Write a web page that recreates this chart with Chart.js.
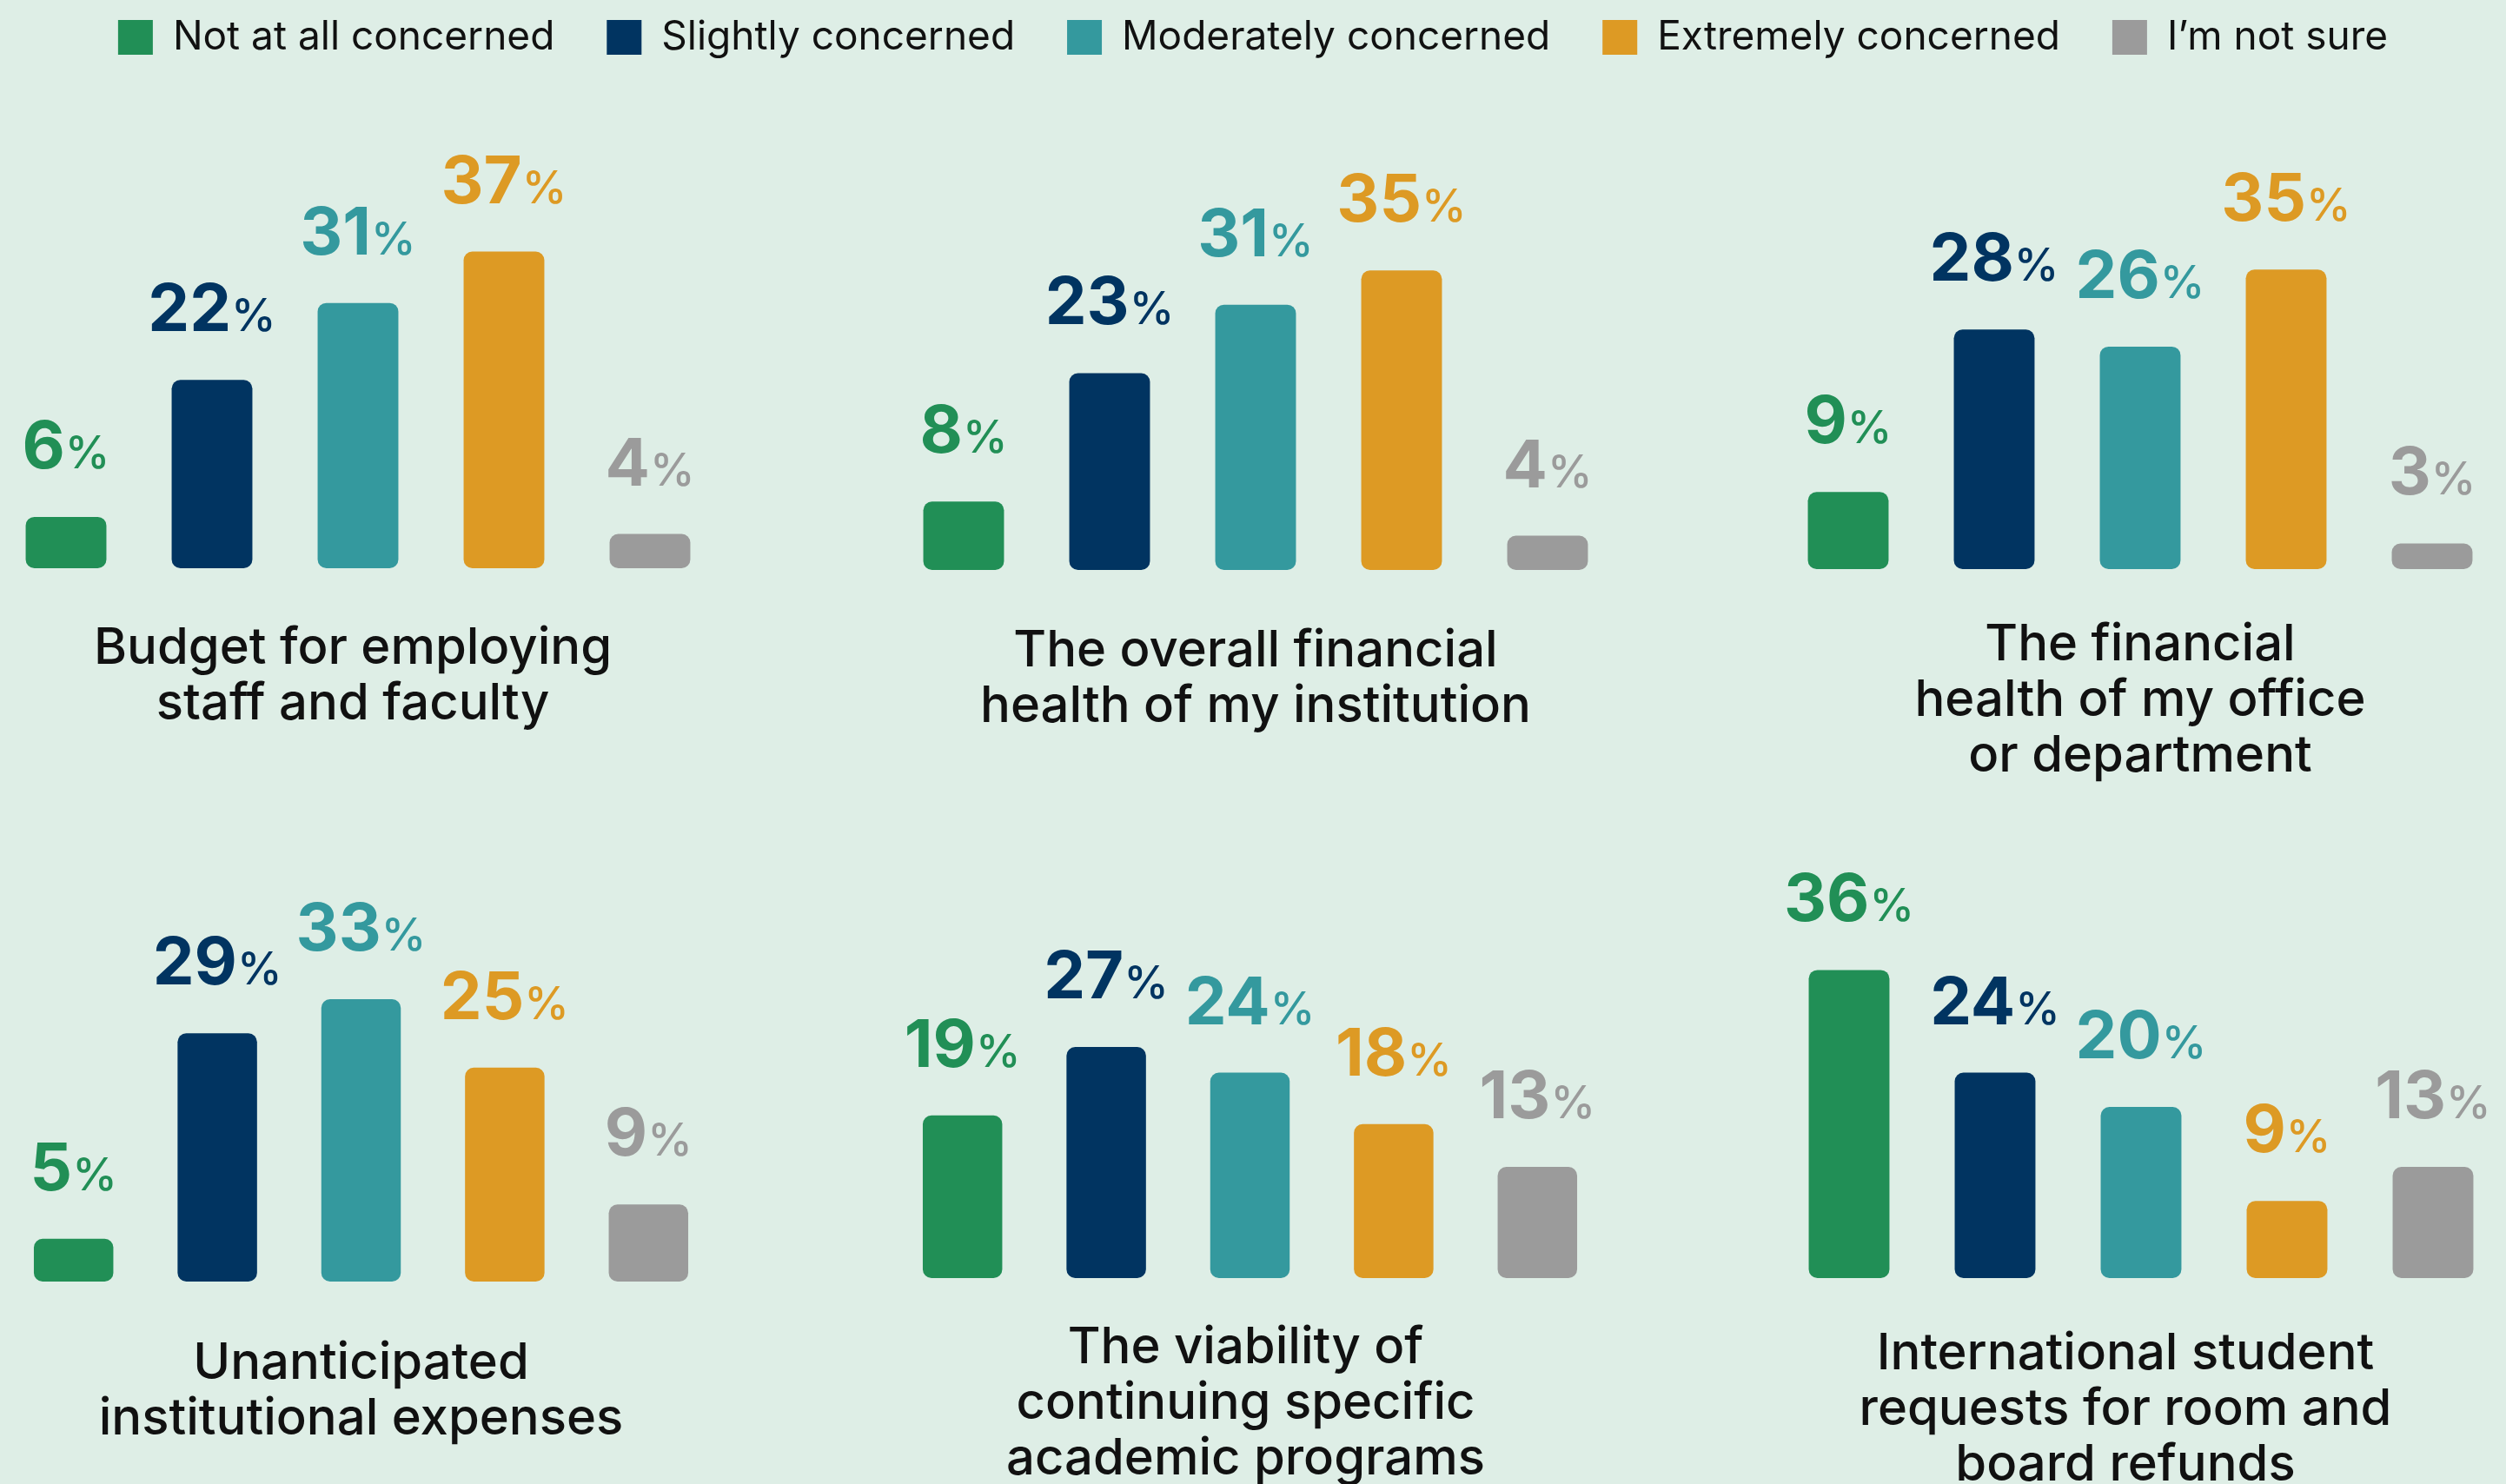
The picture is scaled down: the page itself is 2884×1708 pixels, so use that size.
<!DOCTYPE html>
<html>
<head>
<meta charset="utf-8">
<script src="https://cdn.jsdelivr.net/npm/chart.js@4.4.1/dist/chart.umd.min.js"></script>
<style>
  html, body { margin: 0; padding: 0; }
  body { width: 2884px; height: 1708px; overflow: hidden; position: relative; background: #deeee6; }
  canvas { position: absolute; }
</style>
</head>
<body>
<canvas id="legend" width="2884" height="400" style="left:0;top:-40px"></canvas>
<div id="panels"></div>
<script>
// response categories (legend) and their colours
const categories = ['Not at all concerned', 'Slightly concerned', 'Moderately concerned', 'Extremely concerned', 'I\u2019m not sure'];
const colors = ['#218f56', '#013461', '#34999e', '#dd9a24', '#9b9b9b'];

// one title + one value list per small chart
const budgetTitle = ['Budget for employing', 'staff and faculty'];
const budgetValues = [6, 22, 31, 37, 4];

const overallTitle = ['The overall financial', 'health of my institution'];
const overallValues = [8, 23, 31, 35, 4];

const officeTitle = ['The financial', 'health of my office', 'or department'];
const officeValues = [9, 28, 26, 35, 3];

const expensesTitle = ['Unanticipated', 'institutional expenses'];
const expensesValues = [5, 29, 33, 25, 9];

const programsTitle = ['The viability of', 'continuing specific', 'academic programs'];
const programsValues = [19, 27, 24, 18, 13];

const refundsTitle = ['International student', 'requests for room and', 'board refunds'];
const refundsValues = [36, 24, 20, 9, 13];

const yMax = 40;

// page layout for each panel (pixels)
const AREA_H = 394;     // plot height for 0..yMax
const LABEL_PAD = 110;  // room above the plot for value labels
const LINE_H = 64;
const panels = [
  { title: budgetTitle,   values: budgetValues,   left: -8,   width: 840, baseline: 654,  titlePad: 61, shift: 6 },
  { title: overallTitle,  values: overallValues,  left: 1025, width: 840, baseline: 656,  titlePad: 62, shift: 0 },
  { title: officeTitle,   values: officeValues,   left: 2043, width: 840, baseline: 655,  titlePad: 56, shift: 0 },
  { title: expensesTitle, values: expensesValues, left: 2,    width: 827, baseline: 1475, titlePad: 63, shift: 0 },
  { title: programsTitle, values: programsValues, left: 1025, width: 827, baseline: 1471, titlePad: 49, shift: 5 },
  { title: refundsTitle,  values: refundsValues,  left: 2044, width: 840, baseline: 1471, titlePad: 56, shift: 18 }
];

const FONT = 'Inter, "Noto Sans", sans-serif';
const numFont = '700 76px ' + FONT;
const pctFont = '500 52px ' + FONT;

const valueLabels = {
  id: 'valueLabels',
  afterDatasetsDraw(chart) {
    const ctx = chart.ctx;
    const ds = chart.data.datasets[0];
    chart.getDatasetMeta(0).data.forEach((bar, i) => {
      const num = String(ds.data[i]);
      ctx.save();
      ctx.font = numFont;
      const w1 = ctx.measureText(num).width;
      ctx.font = pctFont;
      const w2 = ctx.measureText('%').width;
      const x0 = bar.x - (w1 + w2) / 2;
      const y = bar.y - 56;
      ctx.fillStyle = ds.backgroundColor[i];
      ctx.textBaseline = 'alphabetic';
      ctx.textAlign = 'left';
      ctx.font = numFont;
      ctx.fillText(num, x0, y);
      ctx.font = pctFont;
      ctx.fillText('%', x0 + w1, y);
      ctx.restore();
    });
  }
};

// legend
new Chart(document.getElementById('legend'), {
  type: 'bar',
  data: {
    labels: [],
    datasets: categories.map((c, i) => ({ label: c, data: [], backgroundColor: colors[i] }))
  },
  options: {
    responsive: false,
    animation: false,
    events: [],
    scales: { x: { display: false }, y: { display: false } },
    plugins: {
      tooltip: { enabled: false },
      legend: {
        position: 'top',
        labels: {
          boxWidth: 40,
          boxHeight: 40,
          padding: 60,
          color: '#111',
          font: { family: FONT, size: 46, weight: 400 }
        }
      }
    }
  }
});

const holder = document.getElementById('panels');
panels.forEach(p => {
  const cv = document.createElement('canvas');
  const yw = p.shift * 2;
  const h = LABEL_PAD + AREA_H + p.titlePad + p.title.length * LINE_H + 6;
  cv.width = p.width + yw;
  cv.height = h;
  cv.style.left = (p.left - yw) + 'px';
  cv.style.top = (p.baseline - AREA_H - LABEL_PAD) + 'px';
  holder.appendChild(cv);

  new Chart(cv, {
    type: 'bar',
    data: {
      labels: categories,
      datasets: [{
        data: p.values,
        backgroundColor: colors,
        borderRadius: 10,
        borderSkipped: false,
        categoryPercentage: 1,
        barPercentage: 0.553
      }]
    },
    options: {
      responsive: false,
      animation: false,
      events: [],
      layout: { padding: { top: LABEL_PAD, bottom: 0, left: 0, right: 0 } },
      scales: {
        x: { display: false },
        y: {
          display: yw > 0,
          min: 0,
          max: yMax,
          ticks: { display: false },
          grid: { display: false },
          border: { display: false },
          afterFit: s => { s.width = yw; }
        }
      },
      plugins: {
        legend: { display: false },
        tooltip: { enabled: false },
        title: {
          display: true,
          position: 'bottom',
          text: p.title,
          color: '#111',
          font: { family: FONT, size: 58, weight: 500, lineHeight: LINE_H + 'px' },
          padding: { top: p.titlePad, bottom: 6 }
        }
      }
    },
    plugins: [valueLabels]
  });
});
</script>
</body>
</html>
